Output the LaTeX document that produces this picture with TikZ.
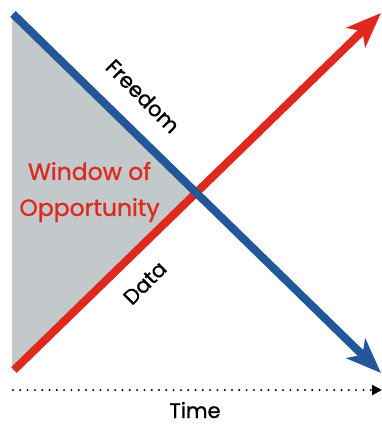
\documentclass[tikz,border=0pt]{standalone}
\usepackage{fontspec}
\setmainfont{Poppins}[BoldFont=Poppins, BoldFeatures={FakeBold=1.1}]
\usetikzlibrary{arrows.meta,intersections}

\definecolor{freeblue}{HTML}{22579A}
\definecolor{datared}{HTML}{DF291F}
\definecolor{windowgray}{HTML}{C3C8CA}

\tikzset{
  trend/.style={line width=8pt, -{Stealth[length=35pt,width=27pt,inset=9pt]}},
  axislabel/.style={font=\fontsize{21}{24}\selectfont\bfseries, text=black, inner sep=0pt},
  windowlabel/.style={font=\fontsize{23.5}{36}\selectfont\bfseries, text=datared, align=center, inner sep=0pt},
}

\begin{document}
\begin{tikzpicture}[x=1pt,y=-1pt]
  \useasboundingbox (0,0) rectangle (382,424);

  % end points of the two trends and of the time axis
  \coordinate (fstart) at (13,14);
  \coordinate (fend)   at (381,373);
  \coordinate (dstart) at (14,370);
  \coordinate (dend)   at (381,13);
  \coordinate (tstart) at (13,390);
  \coordinate (tend)   at (382,390);

  \path[name path=freedom] (fstart) -- (fend);
  \path[name path=data] (dstart) -- (dend);
  \path[name intersections={of=freedom and data, by=cross}];

  % shaded window between the two lines
  \fill[windowgray] (12,13) -- (cross) -- (12,371) -- cycle;

  % trend lines
  \draw[trend, datared] (dstart) -- (dend);
  \draw[trend, freeblue] (fstart) -- (fend);

  % dotted time axis
  \draw[line width=2.2pt, line cap=round, dash pattern=on 0pt off 7.3pt,
        -{Triangle[length=10pt,width=10pt]}] (tstart) -- (tend);

  % labels
  \node[axislabel, rotate=-45] (freedomlabel) at (143,96) {Freedom};
  \node[axislabel, rotate=45] (datalabel) at (145,283) {Data};
  \node[axislabel, anchor=base] (timelabel) at (195,418) {Time};
  \node[windowlabel] (windowlabel) at (89.5,192) {Window of\\Opportunity};
\end{tikzpicture}
\end{document}
